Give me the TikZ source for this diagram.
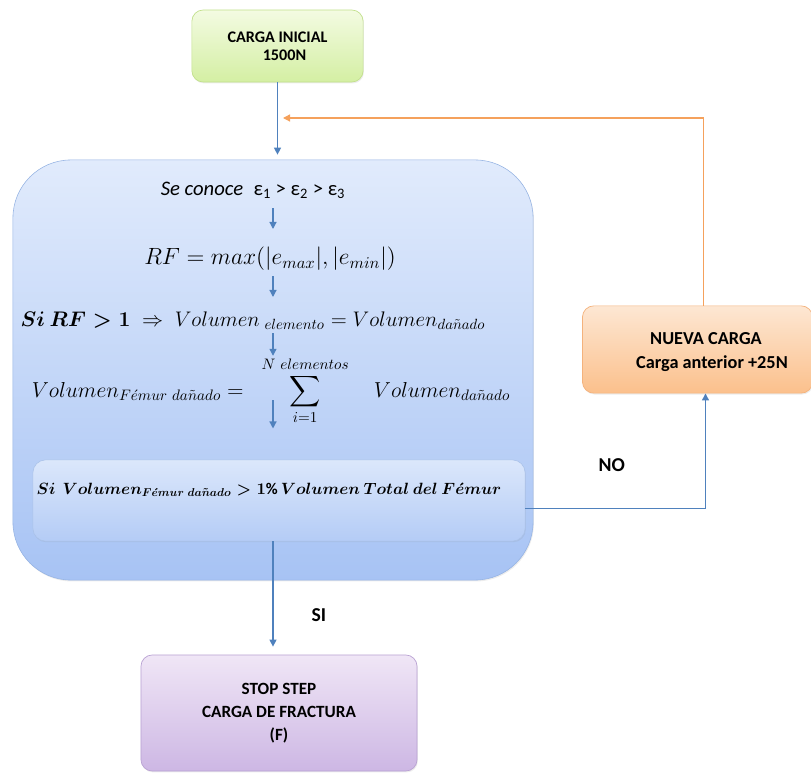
\RequirePackage{fix-cm}
\documentclass[tikz,border=0pt]{standalone}
\usepackage{amsmath,amssymb}
\usepackage{fontspec}
\setmainfont{Carlito}
\usetikzlibrary{arrows.meta, positioning, shadows}

\definecolor{greenTop}{HTML}{F3FBE2}
\definecolor{greenBot}{HTML}{D4EFA3}
\definecolor{greenLine}{HTML}{C2E08C}
\definecolor{blueTop}{HTML}{E1EBFC}
\definecolor{blueBot}{HTML}{A7C3F4}
\definecolor{blueLine}{HTML}{95B3E3}
\definecolor{orangeTop}{HTML}{FDE7D3}
\definecolor{orangeBot}{HTML}{FBC08C}
\definecolor{orangeLine}{HTML}{F4B27C}
\definecolor{purpleTop}{HTML}{F0E6F6}
\definecolor{purpleBot}{HTML}{CDB7E4}
\definecolor{purpleLine}{HTML}{B9A2D3}
\definecolor{flowBlue}{HTML}{4F81BD}
\definecolor{flowOrange}{HTML}{F5A15C}

\newcommand{\volfemur}{Volumen_{F\acute{e}mur\ da\tilde{n}ado}}

\begin{document}
\begin{tikzpicture}[
  x = 0.025cm, y = -0.025cm,
  stepbox/.style = {rectangle, rounded corners=8pt, draw, line width=0.5pt,
                    align=center, font=\bfseries, inner sep=0pt,
                    drop shadow={opacity=0.15, shadow xshift=0.6pt, shadow yshift=-1pt}},
  bigbox/.style  = {rectangle, rounded corners=1.45cm, draw=blueLine,
                    top color=blueTop, bottom color=blueBot,
                    minimum width=13cm, minimum height=10.5cm,
                    drop shadow={opacity=0.15, shadow xshift=0.6pt, shadow yshift=-1pt}},
  condbox/.style = {rectangle, rounded corners=9pt, draw=blueLine!80,
                    top color=blueTop!90!blueBot, bottom color=blueBot!85!white,
                    minimum width=12.3cm, minimum height=2.03cm,
                    drop shadow={opacity=0.12, shadow xshift=0.5pt, shadow yshift=-0.8pt}},
  eq/.style      = {inner sep=0pt, font=\fontsize{#1}{18}\selectfont},
  eq/.default    = 15.5,
  lbl/.style     = {font=\fontsize{14}{16}\selectfont\bfseries, inner sep=0pt},
  arr/.style     = {-{Triangle[length=5pt, width=5pt]}, line width=0.9pt, draw=flowBlue},
  oarr/.style    = {-{Triangle[length=5pt, width=5pt]}, line width=0.9pt, draw=flowOrange},
]
\useasboundingbox (0,0) rectangle (811,774);

%% ── Boxes ───────────────────────────────────────────────────────────────
\node[stepbox, draw=greenLine, top color=greenTop, bottom color=greenBot,
      minimum width=4.28cm, minimum height=1.8cm,
      font=\fontsize{11.5}{13}\selectfont\bfseries] (start) at (277.5,46)
      {CARGA INICIAL\\\hspace*{0.35cm}1500N};

\node[bigbox] (proc) at (273,370) {};

\node[stepbox, draw=orangeLine, top color=orangeTop, bottom color=orangeBot,
      minimum width=5.75cm, minimum height=2.18cm] (nueva) at (697.5,349.5) {};
\node[font=\fontsize{13}{17.5}\selectfont\bfseries, align=center, inner sep=0pt]
      (nuevatxt) at (712,352) {\hspace*{-0.3cm}NUEVA CARGA\\Carga anterior +25N};

\node[stepbox, draw=purpleLine, top color=purpleTop, bottom color=purpleBot,
      minimum width=6.9cm, minimum height=2.9cm,
      font=\fontsize{12.2}{16.5}\selectfont\bfseries] (stop) at (279,713)
      {STOP STEP\\CARGA DE FRACTURA\\(F)};

%% ── Steps inside the loop ───────────────────────────────────────────────
\node[eq=14.7] (se)  at (253,190)
     {\textit{Se conoce}\enspace ε\textsubscript{1} > ε\textsubscript{2} > ε\textsubscript{3}};
\node[eq=16.7] (rf)  at (270,259) {$RF = max(|e_{max}|,|e_{min}|)$};
\node[eq=15] (si)  at (253,321)
     {$\boldsymbol{Si\ RF>1}\;\Rightarrow\; Volumen_{\ elemento}=Volumen_{da\tilde{n}ado}$};
\node[eq=15.4] (sum) at (271,391)
     {$\volfemur =\;\; \displaystyle\sum_{i=1}^{N\ elementos}\quad Volumen_{da\tilde{n}ado}$};

\node[condbox] (cond) at (279,500.5) {};
\node[eq=11.6] (condtxt) at (269,490)
     {$\boldsymbol{Si\ \ \volfemur > 1\mathrm{\%}\, Volumen\ Total\ del\ F\acute{e}mur}$};

%% ── Flow arrows ─────────────────────────────────────────────────────────
\draw[arr, shorten >=0.125cm] (start.south) -- (proc.north -| start);
\draw[arr, shorten <=0.45cm,  shorten >=0.75cm] (se -| proc)  -- (rf -| proc);
\draw[arr, shorten <=0.43cm,  shorten >=0.6cm]  (rf -| proc)  -- (si -| proc);
\draw[arr, shorten <=0.3cm,   shorten >=0.88cm] (si -| proc)  -- (sum -| proc);
\draw[arr, shorten <=0.225cm, shorten >=1.8cm]  (sum -| proc) -- (cond -| proc);

\draw[arr, shorten >=0.2cm] (cond.south -| proc) --
      node[lbl, pos=0.65, right=0.95cm] (si-lbl) {SI} (stop.north -| proc);

\draw[arr] ([yshift=-0.2cm]cond.east) -|
      node[lbl, pos=0.24, above=0.9cm] (no-lbl) {NO} ([xshift=0.2cm]nueva.south);

%% ── Loop back with the new load ─────────────────────────────────────────
\coordinate (join) at (277,118);
\draw[oarr, shorten >=0.15cm] ([xshift=0.15cm]nueva.north) |- (join);

\end{tikzpicture}
\end{document}
